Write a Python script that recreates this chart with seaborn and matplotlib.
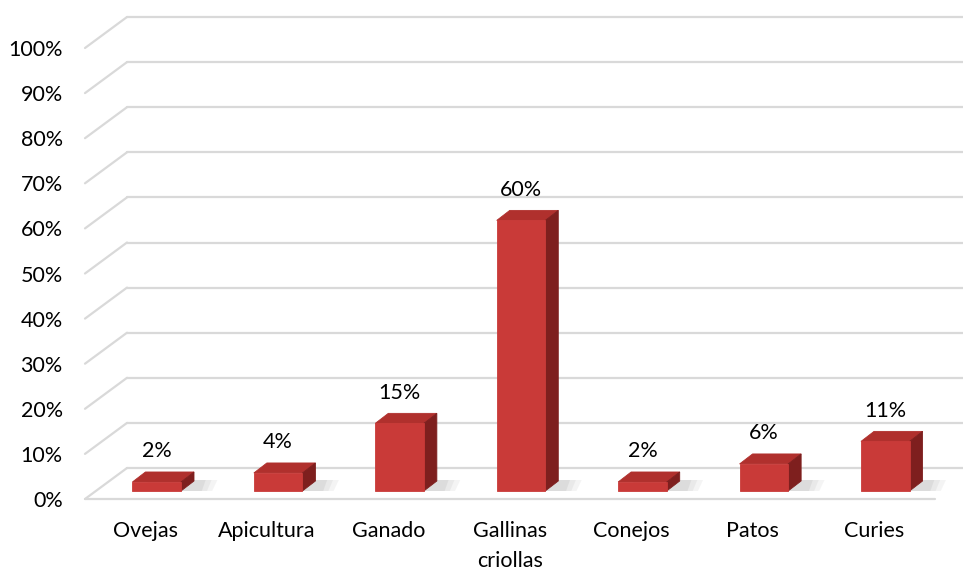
import matplotlib
matplotlib.use('Agg')
import matplotlib.pyplot as plt
import seaborn as sns
import numpy as np
from matplotlib.patches import Polygon
from matplotlib.transforms import ScaledTranslation

# datos
categorias = ['Ovejas', 'Apicultura', 'Ganado', 'Gallinas\ncriollas', 'Conejos', 'Patos', 'Curies']
porcentajes = [0.02, 0.04, 0.15, 0.60, 0.02, 0.06, 0.11]
etiquetas = ['2%', '4%', '15%', '60%', '2%', '6%', '11%']
yticks = [0, 0.1, 0.2, 0.3, 0.4, 0.5, 0.6, 0.7, 0.8, 0.9, 1.0]
ytick_labels = ['0%', '10%', '20%', '30%', '40%', '50%', '60%', '70%', '80%', '90%', '100%']

sns.set_theme(style='white')
plt.rcParams['font.family'] = ['Lato', 'DejaVu Sans']

W, H, DPI = 963, 569, 100
fig = plt.figure(figsize=(W / DPI, H / DPI), dpi=DPI)
# plano frontal del piso
ax_l, ax_r, y0_px, y1_px = 85, 935, 499, 48
ax = fig.add_axes([ax_l / W, (H - y0_px) / H, (ax_r - ax_l) / W, (y0_px - y1_px) / H])

n = len(categorias)
ax.set_xlim(-0.5, n - 0.5)
ax.set_ylim(0, 1)
px_x = (ax_r - ax_l) / n          # pixeles por unidad x
px_y = (y0_px - y1_px)            # pixeles por unidad y

frente = '#c93a38'
lado = '#7e1f1e'
arriba = '#b0302d'
grid_c = '#d9d9d9'
fs = 15.5

# paredes y lineas de cuadricula (profundidad del fondo)
bx, by = 42 / px_x, 31 / px_y
for v in yticks:
    ax.plot([-0.5 + bx, n - 0.5 + bx + 1], [v + by, v + by], color=grid_c, lw=1.6,
            clip_on=False, zorder=1)
    ax.plot([-0.5, -0.5 + bx], [v, v + by], color=grid_c, lw=1.6, clip_on=False, zorder=1)
ax.plot([-0.5, n - 0.5], [0, 0], color=grid_c, lw=1.6, clip_on=False, zorder=1)

# barras (cara frontal)
sns.barplot(x=categorias, y=porcentajes, color=frente, width=0.4, saturation=1,
            ax=ax, zorder=3)

off = ScaledTranslation(11 / DPI, 8 / DPI, fig.dpi_scale_trans)
dx, dy = 13 / px_x, 10 / px_y
for p, lab in zip(ax.patches, etiquetas):
    x0, w, h = p.get_x(), p.get_width(), p.get_height()
    p.set_transform(ax.transData + off)
    p.set_clip_on(False)
    p.set_edgecolor(frente)
    p.set_linewidth(0.6)
    p.set_zorder(4)
    # sombra difusa
    for k, a in [(1.0, 0.07), (0.75, 0.08), (0.5, 0.1)]:
        sombra = Polygon([(x0 + w * 0.5, 0), (x0 + w + dx * (0.8 + 1.6 * k), 0),
                          (x0 + w + dx * (1.0 + 1.8 * k), dy * 1.1),
                          (x0 + dx, dy * 1.1)], closed=True, facecolor='#707070', alpha=a,
                         edgecolor='none', transform=ax.transData + off, clip_on=False,
                         zorder=2)
        ax.add_patch(sombra)
    top = Polygon([(x0, h), (x0 + w, h), (x0 + w + dx, h + dy), (x0 + dx, h + dy)],
                  closed=True, facecolor=arriba, edgecolor=arriba, lw=0.6,
                  transform=ax.transData + off, clip_on=False, zorder=3)
    side = Polygon([(x0 + w, 0), (x0 + w + dx, dy), (x0 + w + dx, h + dy), (x0 + w, h)],
                   closed=True, facecolor=lado, edgecolor=lado, lw=0.6,
                   transform=ax.transData + off, clip_on=False, zorder=3)
    ax.add_patch(top)
    ax.add_patch(side)
    ax.annotate(lab, xy=(x0 + w / 2, h), xytext=(0, 22), textcoords='offset points',
                xycoords=ax.transData + off, ha='center', va='center',
                fontsize=fs, color='#000000', annotation_clip=False)

ax.set_yticks(yticks)
ax.set_yticklabels(ytick_labels)
ax.tick_params(axis='y', length=0, pad=16, labelsize=fs, labelcolor='#000000')
ax.tick_params(axis='x', length=0, pad=16, labelsize=fs, labelcolor='#000000')
for t in ax.get_xticklabels():
    t.set_linespacing(1.6)
for s in ax.spines.values():
    s.set_visible(False)
ax.set_facecolor('none')
ax.grid(False)

fig.savefig('out.png', dpi=DPI, facecolor='white')
